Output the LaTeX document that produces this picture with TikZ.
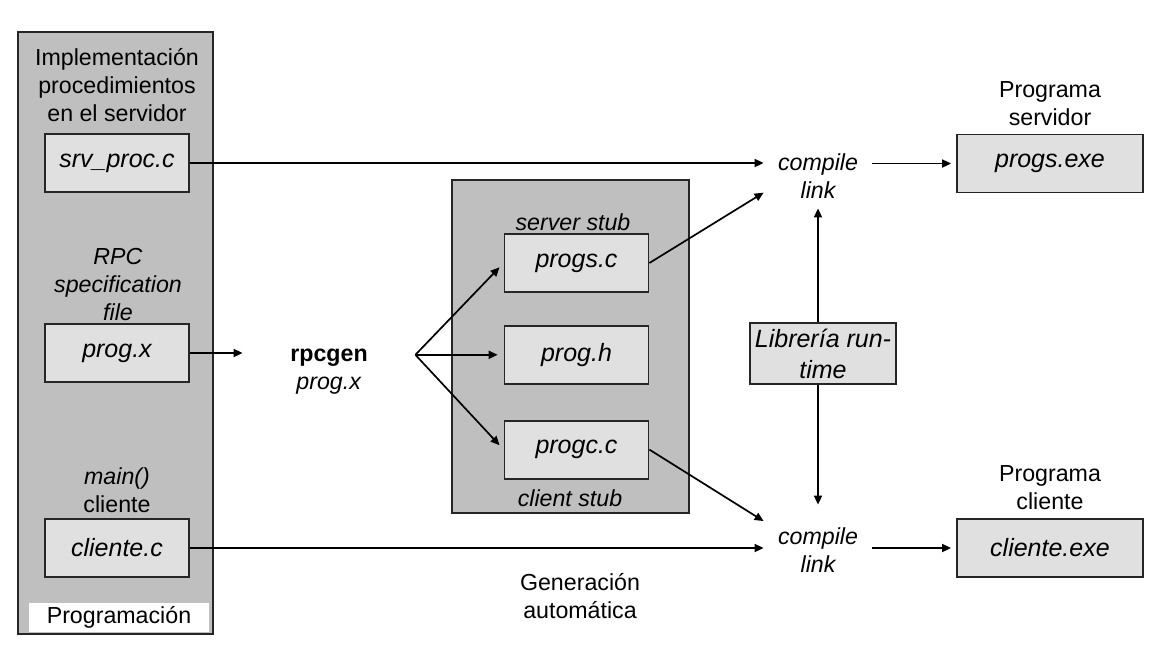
\documentclass[tikz,border=0pt]{standalone}
\usepackage{fontspec}
\setmainfont{Liberation Sans}
\usetikzlibrary{positioning,arrows.meta}

\begin{document}
\begin{tikzpicture}[x=0.5pt,y=-0.5pt,
            every node/.style={font=\fontsize{11.6}{14}\selectfont, align=center, inner sep=0pt},
            groupbox/.style={rectangle, draw=black!85, fill=black!25, line width=0.9pt},
            filenode/.style={rectangle, draw=black!85, fill=black!12, line width=0.9pt, minimum width=72pt, minimum height=29pt, font=\fontsize{12.5}{15.5}\selectfont\itshape},
            stepnode/.style={minimum width=54pt, minimum height=32pt, font=\fontsize{11.6}{14}\selectfont\itshape},
            arr/.style={-{Triangle[length=4.5pt,width=4pt]}, line width=0.85pt},
            ]
            \useasboundingbox (0,0) rectangle (1158,665);

            %Groups
            \node[groupbox, minimum width=97.5pt, minimum height=301pt] (prog) at (115.5,333) {};
            \node[fill=white, minimum width=90pt, minimum height=14.5pt] (progtag) at (119,617.5) {Programación};
            \node[groupbox, minimum width=118.5pt, minimum height=166.5pt] (gen) at (570.5,346.5) {};

            %Nodes
            \node[filenode]      (srvproc)    at (117,163)   {srv\_proc.c};
            \node[filenode]      (progx)      at (117,353)   {prog.x};
            \node[filenode]      (clientec)   at (117,548)   {cliente.c};
            \node[filenode]      (progsc)     at (576.5,263) {progs.c};
            \node[filenode]      (progh)      [below=16pt of progsc] {prog.h};
            \node[filenode]      (progcc)     [below=17.5pt of progh] {progc.c};
            \node[filenode, minimum width=73pt, minimum height=30.5pt] (libreria) at (823,353.5) {Librería run-\\time};
            \node[filenode, minimum width=93pt] (progsexe)   at (1050,163.5) {progs.exe};
            \node[filenode, minimum width=93pt] (clienteexe) at (1050,548)   {cliente.exe};

            \node[minimum width=86pt] (rpcgen)  at (329,372) {\textbf{rpcgen}\\\textit{prog.x}};
            \node[stepnode]           (compsrv) at (818,176) {compile\\link};
            \node[stepnode]           (compcli) at (818,550) {compile\\link};

            %Labels
            \node (implab)  at (117,85)   {Implementación\\procedimientos\\en el servidor};
            \node (rpclab)  at (118,285)  {\textit{RPC}\\\textit{specification}\\\textit{file}};
            \node (mainlab) at (117,490)  {\textit{main()}\\cliente};
            \node (srvstub) at (573,222)  {\textit{server stub}};
            \node (clistub) at (570,498)  {\textit{client stub}};
            \node (srvlab)  at (1050,104) {Programa\\servidor};
            \node (clilab)  at (1050,488) {Programa\\cliente};
            \node (genlab)  at (580,596)  {Generación\\automática};

            %Lines
            \draw[arr] (srvproc.east) -- (srvproc.east -| compsrv.west);
            \draw[arr, shorten >=2.5pt] (compsrv.east |- progsexe) -- (progsexe.west);
            \draw[arr] (progsc.east) -- (compsrv.197);
            \draw[arr] (libreria.north -| compsrv.south) -- (compsrv.south);
            \draw[arr] (libreria.south -| compcli.north) -- ([yshift=6.5pt]compcli.north);
            \draw[arr] (progcc.east) -- (compcli.152);
            \draw[arr] (clientec.east) -- (clientec.east -| compcli.west);
            \draw[arr, shorten >=2.5pt] (compcli.east |- clienteexe) -- (clienteexe.west);
            \draw[arr] (progx.east) -- (progx.east -| rpcgen.west);
            \draw[arr, shorten >=3pt] (rpcgen.east |- progh) -- (progsc.west);
            \draw[arr, shorten >=3pt] (rpcgen.east |- progh) -- (progh.west);
            \draw[arr, shorten >=3pt] (rpcgen.east |- progh) -- (progcc.west);

        \end{tikzpicture}
\end{document}
